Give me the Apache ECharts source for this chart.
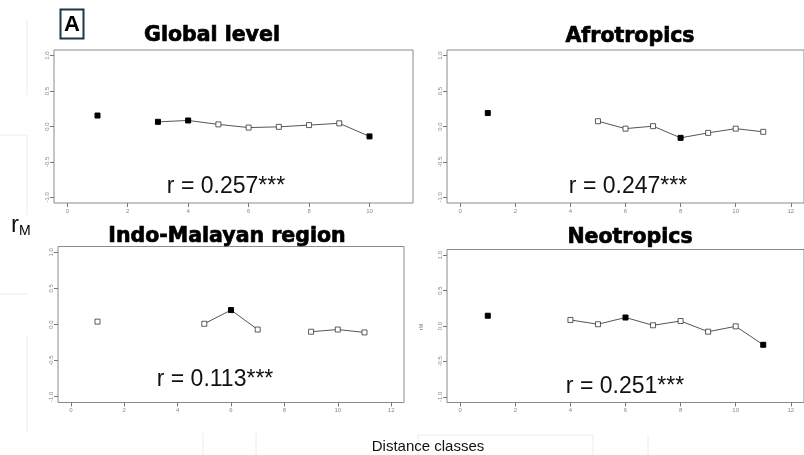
<!DOCTYPE html>
<html><head><meta charset="utf-8">
<script src="https://cdn.jsdelivr.net/npm/echarts@6/dist/echarts.min.js"></script>
<style>html,body{margin:0;padding:0;background:#fff}#c{width:804px;height:455px}</style>
</head><body><div id="c"></div>
<script>
// Distance classes (x) and Mantel correlation values (rM) per class; null = no value
const distanceClasses = [1, 2, 3, 4, 5, 6, 7, 8, 9, 10, 11];
const globalValues = [0.155, null, 0.066, 0.085, 0.03, -0.015, -0.005, 0.02, 0.045, -0.14, null];
const globalSignificant = [1, 0, 1, 1, 0, 0, 0, 0, 0, 1, 0];
const afroValues = [0.19, null, null, null, 0.075, -0.03, 0.005, -0.16, -0.09, -0.03, -0.075];
const afroSignificant = [1, 0, 0, 0, 0, 0, 0, 1, 0, 0, 0];
const indoValues = [0.04, null, null, null, 0.01, 0.2, -0.07, null, -0.1, -0.07, -0.11];
const indoSignificant = [0, 0, 0, 0, 0, 1, 0, 0, 0, 0, 0];
const neoValues = [0.145, null, null, 0.085, 0.025, 0.12, 0.01, 0.07, -0.08, -0.005, -0.265];
const neoSignificant = [1, 0, 0, 0, 0, 1, 0, 0, 0, 0, 1];
const xTicksGlobal = [0, 2, 4, 6, 8, 10];
const xTicksRegional = [0, 2, 4, 6, 8, 10, 12];
const yTicks = [-1, -0.5, 0, 0.5, 1];
const panelTitles = ['Global level', 'Afrotropics', 'Indo-Malayan region', 'Neotropics'];
const panelStats = ['r = 0.257***', 'r = 0.247***', 'r = 0.113***', 'r = 0.251***'];

const panels = [
  {values: globalValues, sig: globalSignificant, ticks: xTicksGlobal, xmin: -0.44, xmax: 11.44,
   grid: {left: 54, top: 50, width: 359, height: 153}},
  {values: afroValues, sig: afroSignificant, ticks: xTicksRegional, xmin: -0.48, xmax: 12.48,
   grid: {left: 447, top: 50, width: 359, height: 153}},
  {values: indoValues, sig: indoSignificant, ticks: xTicksRegional, xmin: -0.48, xmax: 12.48,
   grid: {left: 58, top: 246.5, width: 346, height: 156}},
  {values: neoValues, sig: neoSignificant, ticks: xTicksRegional, xmin: -0.48, xmax: 12.48,
   grid: {left: 447, top: 249.5, width: 359, height: 153}}
];

const tickColor = '#777';
const grids = [], xAxes = [], yAxes = [], series = [];
panels.forEach((p, i) => {
  grids.push(Object.assign({show: true, borderColor: '#8a8a8a', borderWidth: 1, backgroundColor: '#fff'}, p.grid));
  xAxes.push({
    type: 'value', gridIndex: i, min: p.xmin, max: p.xmax, position: 'bottom',
    axisLine: {show: false, onZero: false}, splitLine: {show: false},
    axisTick: {show: true, length: 4, customValues: p.ticks, lineStyle: {color: tickColor}},
    axisLabel: {customValues: p.ticks, fontSize: 6, color: '#888', margin: 5, fontFamily: 'Liberation Sans'}
  });
  yAxes.push({
    type: 'value', gridIndex: i, min: -1.08, max: 1.08, position: 'left',
    axisLine: {show: false, onZero: false}, splitLine: {show: false},
    axisTick: {show: true, length: 4, customValues: yTicks, lineStyle: {color: tickColor}},
    axisLabel: {customValues: yTicks, fontSize: 6, color: '#888', margin: 4, rotate: 90,
      fontFamily: 'Liberation Sans', formatter: v => v.toFixed(1)}
  });
  series.push({
    type: 'line', xAxisIndex: i, yAxisIndex: i, connectNulls: false,
    symbol: 'rect', symbolSize: 5, showSymbol: true, showAllSymbol: true,
    lineStyle: {color: '#555', width: 1}, animation: false,
    data: distanceClasses.map((c, k) => ({
      value: [c, p.values[k] === null ? '-' : p.values[k]],
      itemStyle: p.sig[k] ? {color: '#000', borderColor: '#000', borderWidth: 1}
                          : {color: '#fff', borderColor: '#333', borderWidth: 0.8}
    }))
  });
});

const titlePos = [[212, 36], [630, 37], [227, 237], [630, 238]];
const statPos = [[226, 187], [628, 187], [215, 380], [625, 387]];
const graphic = [];
// faint screenshot seams
const seam = {stroke: '#ececec', lineWidth: 1};
[[27, 20, 27, 95], [0, 135, 27, 135], [27, 135, 27, 215], [0, 294, 27, 294], [27, 335, 27, 433],
 [203, 433, 203, 455], [256, 433, 256, 455], [418, 435, 418, 455], [418, 435, 593, 435],
 [593, 435, 593, 455], [648, 435, 648, 455]].forEach(s => {
  graphic.push({type: 'line', silent: true, z: -10, shape: {x1: s[0], y1: s[1], x2: s[2], y2: s[3]}, style: seam});
});
panelTitles.forEach((t, i) => {
  graphic.push({type: 'text', x: titlePos[i][0], y: titlePos[i][1],
    style: {text: t, fill: '#000', stroke: '#000', lineWidth: 0.7, font: 'bold 20.5px "DejaVu Sans"',
      textAlign: 'center', textVerticalAlign: 'middle'}});
});
panelStats.forEach((t, i) => {
  graphic.push({type: 'text', x: statPos[i][0], y: statPos[i][1],
    style: {text: t, fill: '#111', font: '23px "Liberation Sans"', textAlign: 'center', textVerticalAlign: 'middle'}});
});
// panel letter
graphic.push({type: 'rect', shape: {x: 60.5, y: 9.5, width: 23, height: 29},
  style: {fill: '#fff', stroke: '#1f3646', lineWidth: 2}});
graphic.push({type: 'text', x: 72, y: 24.5,
  style: {text: 'A', fill: '#000', font: 'bold 22px "Liberation Sans"', textAlign: 'center', textVerticalAlign: 'middle'}});
// y-axis label r_M
graphic.push({type: 'text', x: 11, y: 225,
  style: {text: '{a|r}{b|M}', textVerticalAlign: 'middle',
    rich: {a: {fontSize: 24, fontFamily: 'Liberation Sans', fill: '#111', color: '#111'},
           b: {fontSize: 14, fontFamily: 'Liberation Sans', color: '#111', padding: [12, 0, 0, 0]}}}});
// tiny rM label in Neotropics panel
graphic.push({type: 'text', x: 422, y: 327, rotation: Math.PI / 2,
  style: {text: 'rM', fill: '#666', font: '5px "Liberation Sans"', textAlign: 'center', textVerticalAlign: 'middle'}});
// shared x-axis label
graphic.push({type: 'text', x: 428, y: 447,
  style: {text: 'Distance classes', fill: '#111', font: '15px "Liberation Sans"', textAlign: 'center', textVerticalAlign: 'middle'}});

const chart = echarts.init(document.getElementById('c'), null, {renderer: 'canvas'});
chart.setOption({animation: false, grid: grids, xAxis: xAxes, yAxis: yAxes, series: series, graphic: graphic});
</script></body></html>
